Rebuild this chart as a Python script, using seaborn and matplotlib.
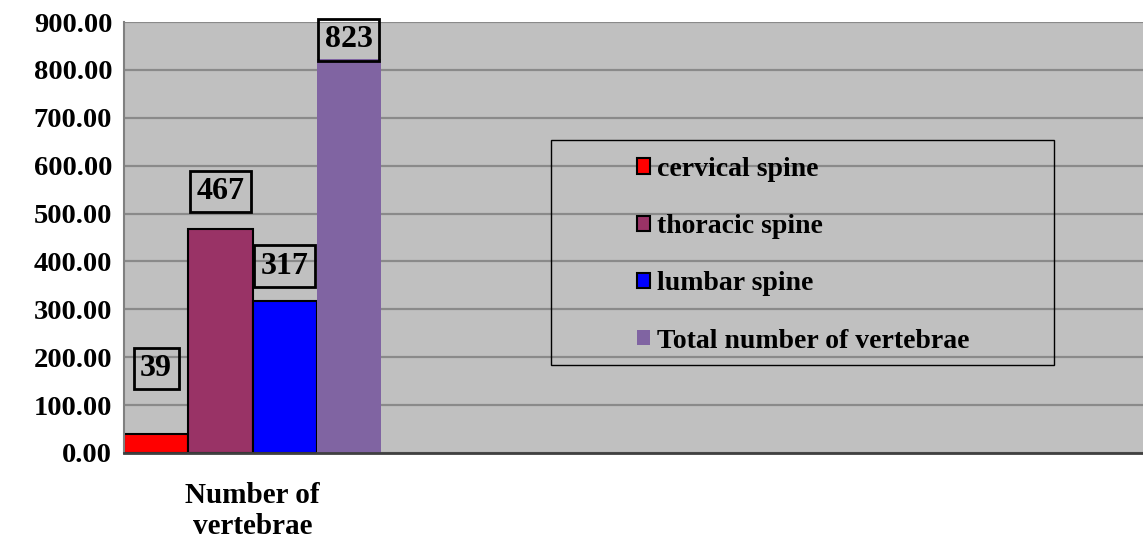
import numpy as np
import matplotlib
matplotlib.use("Agg")
import matplotlib.pyplot as plt
import seaborn as sns
import pandas as pd
from matplotlib.patches import Rectangle
from matplotlib.ticker import FormatStrFormatter, FixedLocator

# ---- data ----
categories = ["Number of\nvertebrae", "c2", "c3", "c4"]
parts = ["cervical spine", "thoracic spine", "lumbar spine", "Total number of vertebrae"]
counts = [39, 467, 317, 823]
y_ticks = [0, 100, 200, 300, 400, 500, 600, 700, 800, 900]

colors = ["#FF0000", "#993366", "#0000FF", "#8064A2"]
edged = [True, True, True, False]
box_gaps = [45, 17, 14, -2]   # px between bar top and label box

df = pd.DataFrame({
    "group": [categories[0]] * len(parts),
    "part": parts,
    "count": counts,
})

sns.set_style("white")
plt.rcParams["font.family"] = ["Liberation Serif", "DejaVu Serif"]
plt.rcParams["font.weight"] = "bold"
plt.rcParams["text.color"] = "black"
plt.rcParams["xtick.labelcolor"] = "black"
plt.rcParams["ytick.labelcolor"] = "black"

fig = plt.figure(figsize=(11.43, 5.40), dpi=100)
ax = fig.add_axes([124 / 1143, 87 / 540, 1028 / 1143, 431 / 540])
ax.set_facecolor("#C0C0C0")

sns.barplot(data=df, x="group", y="count", hue="part", order=categories,
            hue_order=parts, palette=colors, width=1.0, dodge=True,
            saturation=1, ax=ax, legend=True)

for cont, has_edge in zip(ax.containers, edged):
    for p in cont:
        if has_edge:
            p.set_edgecolor("black")
            p.set_linewidth(1.5)
        else:
            p.set_linewidth(0)

ax.set_xlim(-0.5, 3.5)
ax.set_ylim(0, 900)

# data labels in boxes
lab_fs = 23
pad = 0.2
for cont, gap in zip(ax.containers, box_gaps):
    for p in cont:
        h = p.get_height()
        if np.isnan(h):
            continue
        off_px = gap + pad * lab_fs / 0.72
        ax.annotate(f"{int(round(h))}", (p.get_x() + p.get_width() / 2, h),
                    xytext=(0, off_px * 0.72), textcoords="offset points",
                    ha="center", va="bottom", fontsize=lab_fs, fontweight="bold",
                    bbox=dict(boxstyle=f"square,pad={pad}", fc="none", ec="black", lw=2),
                    annotation_clip=False)

# y axis
ax.yaxis.set_major_locator(FixedLocator(y_ticks))
ax.yaxis.set_major_formatter(FormatStrFormatter("%.2f"))
ax.grid(axis="y", color="#8A8A8A", lw=1.6)
ax.set_axisbelow(True)
ax.tick_params(axis="y", length=5.5, width=1.2, color="#808080", labelsize=20.5, pad=3)

# x axis: ticks at category boundaries, label centred in first slot
ax.set_xticks([-0.5, 0.5, 1.5, 2.5])
ax.set_xticklabels([])
ax.set_xticks([0], minor=True)
ax.set_xticklabels([categories[0]], minor=True, fontsize=21, fontweight="bold",
                   linespacing=1.2)
ax.tick_params(axis="x", which="major", length=9, width=1.5, color="#707070")
ax.tick_params(axis="x", which="minor", length=0, pad=21)
ax.set_xlabel("")
ax.set_ylabel("")
for lab in ax.get_yticklabels():
    lab.set_fontweight("bold")

for side in ["top", "right"]:
    ax.spines[side].set_visible(False)
ax.spines["left"].set_color("#808080")
ax.spines["left"].set_linewidth(1.5)
ax.spines["bottom"].set_color("#404040")
ax.spines["bottom"].set_linewidth(2)

# legend with a separate larger frame
ax.get_legend().remove()
handles = [Rectangle((0, 0), 1, 1, fc=c, ec="black" if e else "none", lw=1.5)
           for c, e in zip(colors, edged)]
frame = Rectangle(((551 - 124) / 1028, (453 - 365) / 431), 503 / 1028, 225 / 431,
                  transform=ax.transAxes, fill=False, ec="black", lw=1, zorder=5)
ax.add_patch(frame)
ax.legend(handles, parts, loc="upper left",
          bbox_to_anchor=((637 - 124) / 1028, (453 - 157) / 431),
          frameon=False, prop={"weight": "bold", "size": 20},
          handlelength=0.47, handleheight=0.47, handletextpad=0.25,
          labelspacing=1.16, borderpad=0, borderaxespad=0)

fig.savefig("out.png", dpi=100)
